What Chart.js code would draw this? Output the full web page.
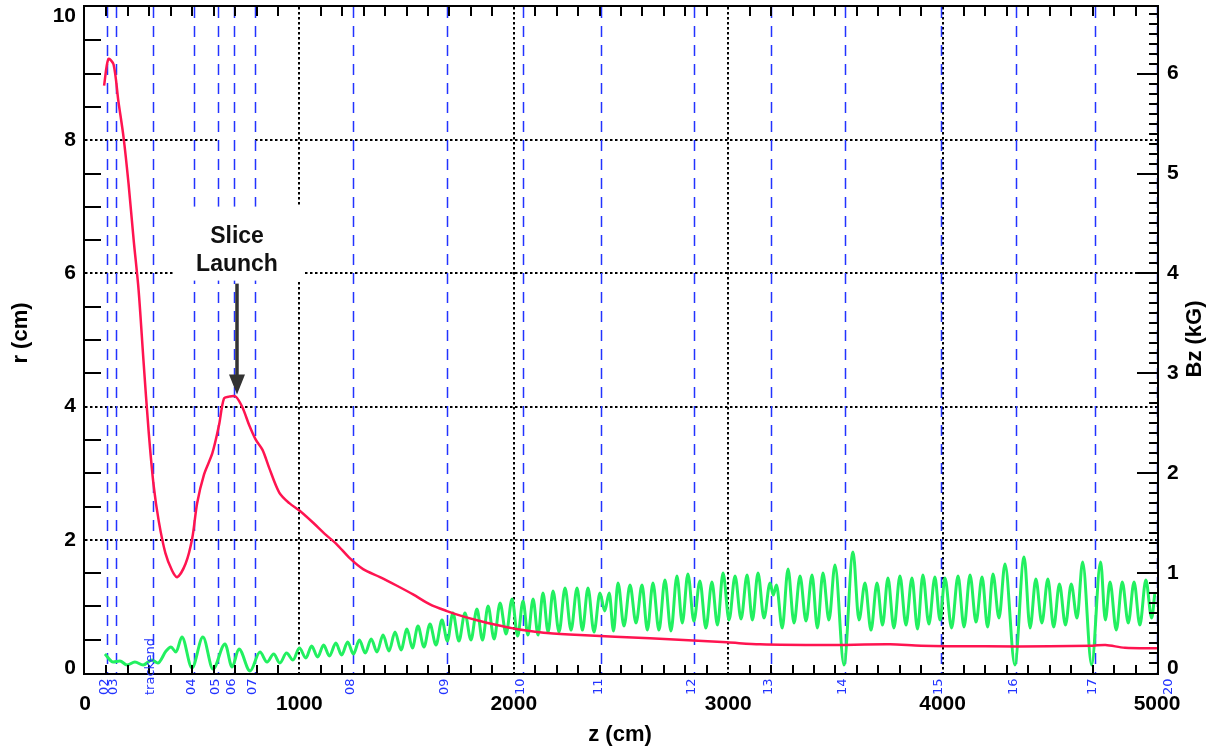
<!DOCTYPE html>
<html>
<head>
<meta charset="utf-8">
<script src="https://cdn.jsdelivr.net/npm/chart.js@4.4.1/dist/chart.umd.min.js"></script>
<style>
  html, body { margin: 0; padding: 0; background: #fff; }
</style>
</head>
<body>
<canvas id="beamChart" width="1215" height="751"></canvas>
<script>
// beam envelope radius r(z), left axis
const rZ = [89, 109, 133, 156, 180, 203, 227, 250, 273, 297, 320, 344, 375, 406, 430, 469, 500, 523, 555,
  594, 625, 648, 672, 703, 734, 766, 797, 828, 859, 906, 953, 1000, 1063, 1125, 1172, 1236, 1297, 1376,
  1455, 1530, 1609, 1688, 1763, 1842, 1921, 1996, 2075, 2155, 2309, 2635, 2994, 3148, 3451, 3755, 3900,
  4200, 4500, 4700, 4760, 4850, 5000];
const rCM = [8.82, 9.22, 9.14, 8.58, 8.04, 7.35, 6.5, 5.75, 4.68, 3.62, 2.82, 2.28, 1.8, 1.54, 1.44, 1.64,
  2.02, 2.55, 2.98, 3.3, 3.72, 4.12, 4.15, 4.15, 3.99, 3.72, 3.5, 3.35, 3.08, 2.71, 2.55, 2.44, 2.26, 2.07,
  1.94, 1.72, 1.56, 1.44, 1.31, 1.18, 1.03, 0.93, 0.85, 0.78, 0.72, 0.67, 0.63, 0.6, 0.57, 0.52, 0.46, 0.43,
  0.42, 0.43, 0.41, 0.4, 0.4, 0.41, 0.42, 0.38, 0.37];

// on-axis field Bz(z), right axis
const bzZ = [93, 131, 163, 196, 233, 271, 312, 340, 378, 401, 424, 452, 499, 550, 597, 653, 686, 718, 770,
  816, 849, 880, 909, 940, 970, 1000, 1030, 1057, 1085, 1113, 1140, 1170, 1197, 1225, 1252, 1280, 1307,
  1335, 1362, 1390, 1418, 1446, 1474, 1502, 1527, 1553, 1581, 1609, 1637, 1665, 1690, 1716, 1744, 1772,
  1800, 1828, 1854, 1880, 1908, 1936, 1964, 1992, 2018, 2043, 2066, 2090, 2113, 2136, 2160, 2183, 2211,
  2239, 2267, 2295, 2320, 2346, 2374, 2402, 2424, 2445, 2465, 2486, 2514, 2542, 2570, 2598, 2623, 2649,
  2677, 2705, 2733, 2761, 2786, 2812, 2840, 2868, 2896, 2924, 2950, 2976, 3004, 3032, 3060, 3088, 3113,
  3139, 3167, 3195, 3210, 3225, 3252, 3279, 3307, 3335, 3363, 3391, 3416, 3442, 3470, 3498, 3540, 3582,
  3610, 3638, 3666, 3694, 3720, 3745, 3773, 3801, 3829, 3857, 3883, 3908, 3936, 3964, 3988, 4011, 4042,
  4072, 4100, 4128, 4156, 4184, 4210, 4235, 4263, 4291, 4337, 4380, 4408, 4435, 4463, 4491, 4518, 4545,
  4573, 4600, 4627, 4653, 4695, 4737, 4759, 4781, 4810, 4838, 4866, 4893, 4920, 4948, 4975, 4990];
const bzKG = [0.19, 0.11, 0.12, 0.08, 0.11, 0.08, 0.13, 0.10, 0.22, 0.26, 0.21, 0.36, 0.05, 0.36, 0.04,
  0.29, 0.06, 0.24, 0.02,
  0.21, 0.11, 0.19, 0.10, 0.20, 0.13, 0.25, 0.15, 0.27, 0.16, 0.28, 0.17, 0.30, 0.18, 0.31, 0.19, 0.33,
  0.20, 0.34, 0.21, 0.38, 0.22, 0.41, 0.23, 0.44, 0.25, 0.47, 0.26, 0.49, 0.28, 0.53, 0.32, 0.60, 0.32,
  0.60, 0.33, 0.64, 0.33, 0.67, 0.34, 0.70, 0.39, 0.74, 0.37, 0.72, 0.38, 0.74, 0.38, 0.80, 0.41, 0.82,
  0.41, 0.85, 0.43, 0.85, 0.43, 0.85, 0.41, 0.80, 0.62, 0.80, 0.42, 0.90, 0.47, 0.88, 0.50, 0.88, 0.43,
  0.90, 0.43, 0.93, 0.42, 0.97, 0.50, 0.99, 0.52, 0.92, 0.45, 0.91, 0.48, 1.00, 0.53, 0.97, 0.54, 0.98,
  0.53, 1.00, 0.55, 0.90, 0.78, 0.88, 0.45, 1.04, 0.50, 0.97, 0.52, 0.98, 0.45, 1.00, 0.53, 1.08, 0.08,
  1.21, 0.53, 0.90, 0.43, 0.90, 0.48, 0.95, 0.45, 0.97, 0.48, 0.95, 0.44, 0.98, 0.49, 0.96, 0.53, 0.95,
  0.45, 0.97, 0.46, 0.98, 0.51, 0.96, 0.46, 0.99, 0.55, 1.09, 0.08, 1.16, 0.45, 0.94, 0.50, 0.94, 0.46,
  0.89, 0.48, 0.89, 0.55, 1.11, 0.08, 1.11, 0.53, 0.91, 0.43, 0.91, 0.50, 0.91, 0.48, 0.93, 0.55, 0.80];

// lattice element positions along z and their names
const markerZ = [103, 145, 317, 508, 620, 695, 793, 1250, 1688, 2043, 2407, 2840, 3200, 3545, 3993, 4342, 4711, 5000];
const markerNames = ['02', '03', 'trackend', '04', '05', '06', '07', '08', '09', '10', '11', '12', '13', '14', '15', '16', '17', '20'];

const zTicks = [0, 1000, 2000, 3000, 4000, 5000];
const rTicks = [0, 2, 4, 6, 8, 10];
const bzTicks = [0, 1, 2, 3, 4, 5, 6];

const launchZ = 707;
const launchR = 4.15;

const toPoints = (xs, ys) => xs.map((v, i) => ({ x: v, y: ys[i] }));

const FONT = '"Liberation Sans", Arial, sans-serif';

function seg(ctx, x1, y1, x2, y2) {
  ctx.beginPath();
  ctx.moveTo(x1, y1);
  ctx.lineTo(x2, y2);
  ctx.stroke();
}

const framePlugin = {
  id: 'frame',
  beforeDatasetsDraw(chart) {
    const { ctx, chartArea: a, scales } = chart;
    const x = scales.x, r = scales.yR;
    ctx.save();
    // dotted grid
    ctx.strokeStyle = '#000';
    ctx.lineWidth = 2;
    ctx.setLineDash([2.5, 2.5]);
    zTicks.slice(1, -1).forEach(v => {
      const px = Math.round(x.getPixelForValue(v));
      seg(ctx, px, a.top, px, a.bottom);
    });
    rTicks.slice(1, -1).forEach(v => {
      const py = Math.round(r.getPixelForValue(v));
      seg(ctx, a.left, py, a.right, py);
    });
    // small break in the r = 8 grid line
    ctx.fillStyle = '#fff';
    const py8 = Math.round(r.getPixelForValue(8));
    ctx.fillRect(x.getPixelForValue(617), py8 - 3, x.getPixelForValue(785) - x.getPixelForValue(617), 6);
    // element markers
    ctx.strokeStyle = '#2233ff';
    ctx.lineWidth = 1.5;
    ctx.setLineDash([11, 8]);
    markerZ.forEach(v => {
      const px = Math.round(x.getPixelForValue(v)) + 0.5;
      seg(ctx, px, a.top, px, a.bottom);
    });
    ctx.restore();
  },
  afterDatasetsDraw(chart) {
    const { ctx, chartArea: a, scales } = chart;
    const x = scales.x, r = scales.yR, bz = scales.yB;
    ctx.save();

    // annotation box with arrow
    const ax = Math.round(x.getPixelForValue(launchZ));
    const tip = r.getPixelForValue(launchR) - 2;
    ctx.fillStyle = '#fff';
    ctx.fillRect(ax - 64, tip - 188, 130, 74);
    ctx.fillStyle = '#111';
    ctx.font = 'bold 23px ' + FONT;
    ctx.textAlign = 'center';
    ctx.textBaseline = 'middle';
    ctx.fillText('Slice', ax, tip - 158);
    ctx.fillText('Launch', ax, tip - 130);
    ctx.strokeStyle = '#333';
    ctx.lineWidth = 3.5;
    seg(ctx, ax, tip - 111, ax, tip - 16);
    ctx.fillStyle = '#333';
    ctx.beginPath();
    ctx.moveTo(ax - 8, tip - 20);
    ctx.lineTo(ax + 8, tip - 20);
    ctx.lineTo(ax, tip);
    ctx.closePath();
    ctx.fill();

    // frame
    ctx.strokeStyle = '#000';
    ctx.lineWidth = 2;
    ctx.strokeRect(a.left - 1, a.top - 1, a.right - a.left + 2, a.bottom - a.top + 2);

    // minor ticks
    for (let v = 100; v < 5000; v += 100) {
      if (v % 1000 === 0) continue;
      const px = Math.round(x.getPixelForValue(v));
      seg(ctx, px, a.bottom, px, a.bottom - 8);
      seg(ctx, px, a.top, px, a.top + 9);
    }
    for (let v = 0.5; v < 10; v += 0.5) {
      if (v % 2 === 0) continue;
      const py = Math.round(r.getPixelForValue(v));
      seg(ctx, a.left, py, a.left + 16, py);
    }
    for (let k = 1; k < 67; k++) {
      const py = Math.round(bz.getPixelForValue(k / 10));
      seg(ctx, a.right, py, a.right - (k % 10 === 0 ? 20 : 8), py);
    }

    // tick labels
    ctx.fillStyle = '#000';
    ctx.font = 'bold 21px ' + FONT;
    ctx.textBaseline = 'middle';
    ctx.textAlign = 'center';
    zTicks.forEach(v => ctx.fillText(String(v), x.getPixelForValue(v), 704));
    ctx.textAlign = 'right';
    rTicks.forEach(v => {
      const py = Math.min(Math.max(r.getPixelForValue(v), 16), 668);
      ctx.fillText(String(v), a.left - 9, py);
    });
    ctx.textAlign = 'left';
    bzTicks.forEach(v => {
      const py = Math.min(bz.getPixelForValue(v), 668);
      ctx.fillText(String(v), a.right + 10, py);
    });

    // axis titles
    ctx.font = 'bold 22px ' + FONT;
    ctx.textAlign = 'center';
    ctx.fillText('z (cm)', 620, 735);
    ctx.save();
    ctx.translate(21, 333);
    ctx.rotate(-Math.PI / 2);
    ctx.fillText('r (cm)', 0, 0);
    ctx.restore();
    ctx.save();
    ctx.translate(1195, 339);
    ctx.rotate(-Math.PI / 2);
    ctx.fillText('Bz (kG)', 0, 0);
    ctx.restore();

    // element names
    ctx.fillStyle = '#2233ff';
    ctx.font = '13px "DejaVu Sans", sans-serif';
    ctx.textAlign = 'left';
    markerNames.forEach((name, i) => {
      const px = Math.round(x.getPixelForValue(markerZ[i]));
      const last = i === markerNames.length - 1;
      ctx.save();
      ctx.translate(last ? px + 5 : px + 1, 695);
      ctx.rotate(-Math.PI / 2);
      ctx.textBaseline = last ? 'top' : 'alphabetic';
      ctx.fillText(name, 0, 0);
      ctx.restore();
    });

    ctx.restore();
  }
};

new Chart(document.getElementById('beamChart'), {
  type: 'scatter',
  data: {
    datasets: [
      {
        label: 'r',
        data: toPoints(rZ, rCM),
        yAxisID: 'yR',
        showLine: true,
        borderColor: '#ff1450',
        borderWidth: 2.5,
        pointRadius: 0,
        tension: 0.3,
        order: 0
      },
      {
        label: 'Bz',
        data: toPoints(bzZ, bzKG),
        yAxisID: 'yB',
        showLine: true,
        borderColor: '#22f060',
        borderWidth: 3,
        pointRadius: 0,
        cubicInterpolationMode: 'monotone',
        order: 1
      }
    ]
  },
  options: {
    responsive: false,
    animation: false,
    devicePixelRatio: 1,
    layout: { padding: { left: 85, right: 58, top: 7, bottom: 78 } },
    scales: {
      x: { type: 'linear', min: 0, max: 5000, display: false },
      yR: { type: 'linear', position: 'left', min: 0, max: 10, display: false },
      yB: { type: 'linear', position: 'right', min: 0, max: 20 / 3, display: false }
    },
    plugins: { legend: { display: false }, tooltip: { enabled: false } }
  },
  plugins: [framePlugin]
});
</script>
</body>
</html>
